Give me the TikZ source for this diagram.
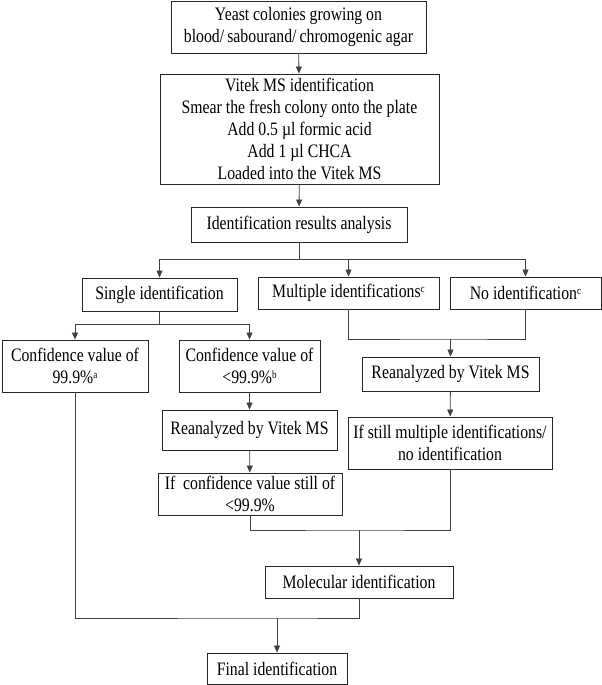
\documentclass[tikz,border=0pt]{standalone}
\usepackage{fontspec}
\setmainfont{Liberation Serif}[FakeStretch=0.83]
\usepackage{tikz}
\usetikzlibrary{arrows.meta}
\newcommand{\fnmark}[1]{\raisebox{0.55ex}{\fontsize{11}{11}\selectfont #1}}

\begin{document}
\begin{tikzpicture}[x=1pt, y=-1pt, >={Triangle[length=7pt,width=6pt]},
    box/.style={draw=black!85, line width=0.9pt, inner sep=0pt, align=center,
        font=\fontsize{19}{22}\selectfont},
    link/.style={draw=black!75, line width=0.8pt}]
    \useasboundingbox (0,0) rectangle (602,685);
    % boxes
    \node[box, minimum width=255pt, minimum height=52pt] (yeast) at (298.5,27)
        {Yeast colonies growing on\\blood/\,sabourand/\,chromogenic agar};
    \node[box, minimum width=279pt, minimum height=110pt] (vitek) at (299.5,129)
        {Vitek MS identification\\Smear the fresh colony onto the plate\\Add 0.5 µl formic acid\\Add 1 µl CHCA\\Loaded into the Vitek MS};
    \node[box, minimum width=216pt, minimum height=35pt] (analysis) at (299,224.5) {Identification results analysis};
    \node[box, minimum width=155pt, minimum height=33pt] (single) at (159.5,294.5) {Single identification};
    \node[box, minimum width=181pt, minimum height=32pt] (multi) at (348.5,293) {Multiple identifications\fnmark{c}};
    \node[box, minimum width=151pt, minimum height=32pt] (noid) at (525.5,293) {No identification\fnmark{c}};
    \node[box, minimum width=146pt, minimum height=52pt] (conf1) at (75,366) {Confidence value of\\99.9\%\fnmark{a}};
    \node[box, minimum width=141pt, minimum height=52pt] (conf2) at (249.5,366) {Confidence value of\\<99.9\%\fnmark{b}};
    \node[box, minimum width=177pt, minimum height=34pt] (reanR) at (450.5,374) {Reanalyzed by Vitek MS};
    \node[box, minimum width=175pt, minimum height=40pt] (reanL) at (249.5,430) {Reanalyzed by Vitek MS};
    \node[box, minimum width=204pt, minimum height=52pt] (still) at (450,443)
        {If still multiple identifications/\\no identification};
    \node[box, minimum width=184pt, minimum height=42pt] (ifconf) at (250,494) {If\ \ confidence value still of\\<99.9\%};
    \node[box, minimum width=188pt, minimum height=32pt] (mol) at (359,582) {Molecular identification};
    \node[box, minimum width=140pt, minimum height=31pt] (final) at (277,668.5) {Final identification};
    % branch points
    \coordinate (split1) at (299,259);
    \coordinate (split2) at (159.5,324);
    \coordinate (join1) at (450.5,339);
    \coordinate (join2) at (359,530);
    \coordinate (join3) at (277,618);
    % connectors
    \draw[link, ->] (yeast) -- (vitek);
    \draw[link, ->] (vitek) -- (analysis);
    \draw[link] (analysis) -- (split1);
    \draw[link, ->] (split1) -| (single);
    \draw[link, ->] (split1) -| (multi);
    \draw[link, ->] (split1) -| (noid);
    \draw[link] (single) -- (split2);
    \draw[link, ->] (split2) -| (conf1);
    \draw[link, ->] (split2) -| (conf2);
    \draw[link] (multi) |- (join1) -| (noid);
    \draw[link, ->] (join1) -- (reanR);
    \draw[link, ->] (reanR) -- (still);
    \draw[link, ->] (conf2) -- (reanL);
    \draw[link, ->] (reanL) -- (ifconf);
    \draw[link] (ifconf) |- (join2) -| (still);
    \draw[link, ->] (join2) -- (mol);
    \draw[link] (conf1) |- (join3) -| (mol);
    \draw[link, ->] (join3) -- (final);
\end{tikzpicture}
\end{document}
